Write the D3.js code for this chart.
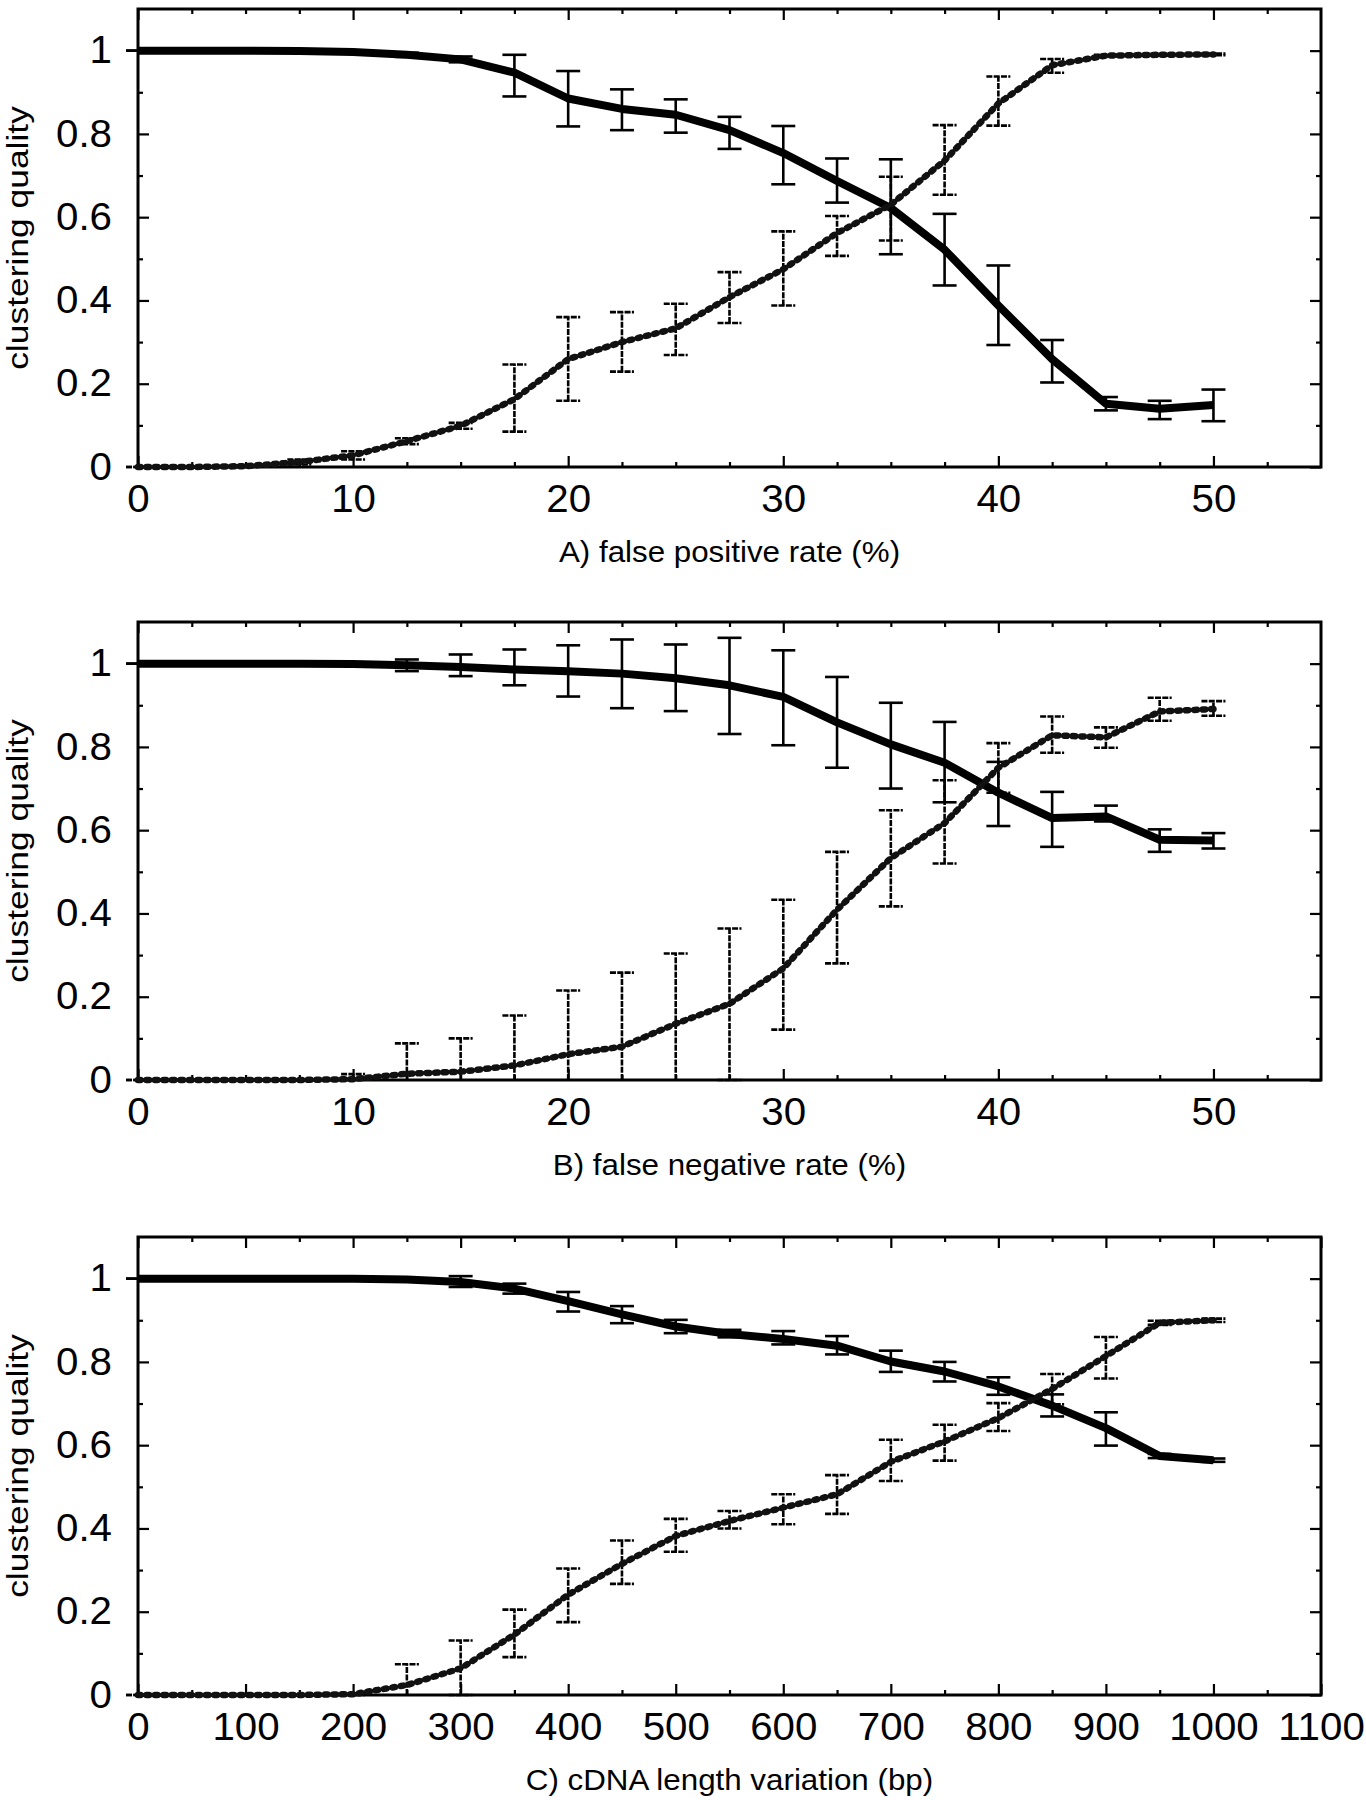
<!DOCTYPE html>
<html>
<head>
<meta charset="utf-8">
<script src="https://cdn.jsdelivr.net/npm/d3@7"></script>
<style>
  body { margin: 0; background: #fff; }
  svg { display: block; }
  text { font-family: "Liberation Sans", Arial, Helvetica, sans-serif; fill: #000; }
</style>
</head>
<body>
<svg id="chart" width="1366" height="1800"></svg>
<script>
// ---- data ----
const rateX = [0, 2.5, 5, 7.5, 10, 12.5, 15, 17.5, 20, 22.5, 25, 27.5, 30, 32.5, 35, 37.5, 40, 42.5, 45, 47.5, 50]
const lengthX = [0, 50, 100, 150, 200, 250, 300, 350, 400, 450, 500, 550, 600, 650, 700, 750, 800, 850, 900, 950, 1000]

// A) false positive rate
const solidA    = [1, 1, 1, 0.999, 0.997, 0.99, 0.979, 0.947, 0.885, 0.86, 0.846, 0.809, 0.754, 0.687, 0.622, 0.522, 0.388, 0.259, 0.152, 0.14, 0.149]
const solidALo  = [1, 1, 1, 0.998, 0.993, 0.985, 0.972, 0.89, 0.818, 0.809, 0.803, 0.764, 0.679, 0.635, 0.511, 0.436, 0.293, 0.203, 0.136, 0.115, 0.11]
const solidAHi  = [1, 1, 1, 1, 1, 0.995, 0.986, 0.99, 0.951, 0.907, 0.883, 0.841, 0.819, 0.741, 0.739, 0.608, 0.484, 0.305, 0.168, 0.159, 0.186]
const dottedA   = [0, 0, 0.002, 0.012, 0.028, 0.062, 0.099, 0.163, 0.259, 0.3, 0.333, 0.408, 0.475, 0.562, 0.63, 0.736, 0.873, 0.965, 0.988, 0.99, 0.991]
const dottedALo = [0, 0, 0, 0.006, 0.018, 0.055, 0.092, 0.085, 0.159, 0.229, 0.269, 0.346, 0.388, 0.507, 0.544, 0.654, 0.82, 0.947, 0.986, 0.988, 0.989]
const dottedAHi = [0, 0, 0.004, 0.018, 0.038, 0.069, 0.106, 0.246, 0.36, 0.372, 0.392, 0.468, 0.566, 0.603, 0.697, 0.821, 0.938, 0.98, 0.99, 0.992, 0.993]

// B) false negative rate
const solidB    = [1, 1, 1, 1, 0.999, 0.996, 0.992, 0.986, 0.982, 0.976, 0.965, 0.948, 0.92, 0.859, 0.806, 0.762, 0.69, 0.629, 0.633, 0.577, 0.575]
const solidBLo  = [1, 1, 1, 1, 0.997, 0.982, 0.97, 0.948, 0.921, 0.893, 0.886, 0.831, 0.804, 0.75, 0.7, 0.667, 0.61, 0.56, 0.621, 0.548, 0.556]
const solidBHi  = [1, 1, 1, 1, 1, 1.01, 1.022, 1.034, 1.044, 1.058, 1.046, 1.062, 1.032, 0.968, 0.906, 0.86, 0.764, 0.692, 0.659, 0.602, 0.593]
const dottedB   = [0, 0, 0, 0, 0.002, 0.015, 0.02, 0.035, 0.062, 0.08, 0.135, 0.183, 0.268, 0.409, 0.533, 0.617, 0.75, 0.828, 0.823, 0.885, 0.891]
const dottedBLo = [0, 0, 0, 0, -0.01, -0.06, -0.06, -0.08, -0.09, -0.1, -0.03, 0, 0.121, 0.28, 0.417, 0.52, 0.69, 0.786, 0.798, 0.863, 0.875]
const dottedBHi = [0, 0, 0, 0, 0.014, 0.088, 0.1, 0.155, 0.215, 0.258, 0.304, 0.364, 0.433, 0.548, 0.648, 0.72, 0.809, 0.873, 0.847, 0.918, 0.91]

// C) cDNA length variation
const solidC    = [1, 1, 1, 1, 1, 0.998, 0.992, 0.976, 0.946, 0.914, 0.885, 0.867, 0.855, 0.839, 0.801, 0.777, 0.741, 0.695, 0.641, 0.574, 0.564]
const solidCLo  = [1, 1, 1, 1, 1, 0.995, 0.98, 0.964, 0.921, 0.893, 0.869, 0.859, 0.842, 0.818, 0.776, 0.753, 0.721, 0.669, 0.599, 0.569, 0.56]
const solidCHi  = [1, 1, 1, 1, 1, 1.001, 1.006, 0.988, 0.968, 0.934, 0.901, 0.877, 0.874, 0.862, 0.827, 0.8, 0.763, 0.722, 0.679, 0.579, 0.568]
const dottedC   = [0, 0, 0, 0, 0.002, 0.024, 0.064, 0.145, 0.241, 0.315, 0.382, 0.418, 0.45, 0.482, 0.56, 0.609, 0.665, 0.735, 0.814, 0.894, 0.9]
const dottedCLo = [0, 0, 0, 0, 0, -0.026, 0, 0.091, 0.175, 0.267, 0.344, 0.4, 0.41, 0.435, 0.514, 0.563, 0.634, 0.698, 0.76, 0.889, 0.896]
const dottedCHi = [0, 0, 0, 0, 0.004, 0.074, 0.131, 0.205, 0.304, 0.371, 0.423, 0.442, 0.482, 0.528, 0.613, 0.649, 0.701, 0.771, 0.86, 0.899, 0.904]

// axis ticks
const yTicks = [0, 0.2, 0.4, 0.6, 0.8, 1]
const yMinor = [0.1, 0.3, 0.5, 0.7, 0.9]
const rateTicks = [0, 10, 20, 30, 40, 50]
const rateMinor = [2.5, 5, 7.5, 12.5, 15, 17.5, 22.5, 25, 27.5, 32.5, 35, 37.5, 42.5, 45, 47.5, 52.5]
const lengthTicks = [0, 100, 200, 300, 400, 500, 600, 700, 800, 900, 1000, 1100]
const lengthMinor = [50, 150, 250, 350, 450, 550, 650, 750, 850, 950, 1050]

const yTitle = 'clustering quality'
const xTitles = ['A) false positive rate (%)', 'B) false negative rate (%)', 'C) cDNA length variation (bp)']

// ---- layout ----
const left = 138
const plotW = 1321 - 138
const plotH = 458
const tops = [9, 622, 1237]

const svg = d3.select('#chart')

function zipSeries(xs, ys, lo, hi) {
  return xs.map((x, i) => ({ x, y: ys[i], lo: lo[i], hi: hi[i] }))
}

// the scanned figure's lettering is a bit wider than the font, stretch it
function stretch(sel, k) {
  sel.each(function () {
    const len = this.getComputedTextLength()
    d3.select(this).attr('textLength', len * k).attr('lengthAdjust', 'spacingAndGlyphs')
  })
}

function drawPanel(p) {
  const g = svg.append('g').attr('transform', `translate(${left},${p.top})`)
  const x = d3.scaleLinear().domain(p.xDomain).range([0, plotW])
  const y = d3.scaleLinear().domain([0, 1.1]).range([plotH, 0])
  const fmt = d => d3.format('~g')(d)

  // ticks on all four sides, pointing inward
  const addAxis = (axis, tx, ty, labelled) => {
    const a = g.append('g').attr('transform', `translate(${tx},${ty})`).call(axis)
    a.select('.domain').remove()
    a.selectAll('line').attr('stroke', '#000').attr('stroke-width', 2.2)
    if (labelled) {
      a.selectAll('text').attr('font-size', 38).attr('fill', '#000')
      stretch(a.selectAll('text'), 1.06)
    }
    return a
  }
  addAxis(d3.axisBottom(x).tickValues(p.xTicks).tickSize(-11).tickSizeOuter(0).tickPadding(18).tickFormat(fmt), 0, plotH, true)
  addAxis(d3.axisBottom(x).tickValues(p.xMinor).tickSize(-5).tickSizeOuter(0).tickFormat(''), 0, plotH, false)
  addAxis(d3.axisTop(x).tickValues(p.xTicks).tickSize(-11).tickSizeOuter(0).tickFormat(''), 0, 0, false)
  addAxis(d3.axisTop(x).tickValues(p.xMinor).tickSize(-5).tickSizeOuter(0).tickFormat(''), 0, 0, false)
  addAxis(d3.axisLeft(y).tickValues(yTicks).tickSize(-11).tickSizeOuter(0).tickPadding(26).tickFormat(fmt), 0, 0, true)
  addAxis(d3.axisLeft(y).tickValues(yMinor).tickSize(-5).tickSizeOuter(0).tickFormat(''), 0, 0, false)
  addAxis(d3.axisRight(y).tickValues(yTicks).tickSize(-11).tickSizeOuter(0).tickFormat(''), plotW, 0, false)
  addAxis(d3.axisRight(y).tickValues(yMinor).tickSize(-5).tickSizeOuter(0).tickFormat(''), plotW, 0, false)

  g.append('rect')
    .attr('width', plotW).attr('height', plotH)
    .attr('fill', 'none').attr('stroke', '#000').attr('stroke-width', 3)

  const line = d3.line().x(d => x(d.x)).y(d => y(d.y))
  const ymax = y.domain()[1]

  function errorBars(data, dashed) {
    const eb = g.append('g')
      .attr('stroke', '#000')
      .attr('stroke-width', 2.6)
      .attr('stroke-dasharray', dashed ? '6,1.3' : null)
    data.forEach(d => {
      const lo = Math.max(d.lo, 0), hi = Math.min(d.hi, ymax)
      eb.append('line').attr('x1', x(d.x)).attr('x2', x(d.x)).attr('y1', y(lo)).attr('y2', y(hi))
      if (d.lo >= 0) eb.append('line').attr('x1', x(d.x) - 12).attr('x2', x(d.x) + 12).attr('y1', y(d.lo)).attr('y2', y(d.lo))
      if (d.hi <= ymax) eb.append('line').attr('x1', x(d.x) - 12).attr('x2', x(d.x) + 12).attr('y1', y(d.hi)).attr('y2', y(d.hi))
    })
  }

  errorBars(p.solid, false)
  g.append('path').datum(p.solid)
    .attr('d', line)
    .attr('fill', 'none').attr('stroke', '#000')
    .attr('stroke-width', 8).attr('stroke-linejoin', 'round')

  errorBars(p.dotted, true)
  g.append('path').datum(p.dotted)
    .attr('d', line)
    .attr('fill', 'none').attr('stroke', '#1a1a1a')
    .attr('stroke-width', 3.6)
  g.append('path').datum(p.dotted)
    .attr('d', line)
    .attr('fill', 'none').attr('stroke', '#111')
    .attr('stroke-width', 6.5).attr('stroke-linecap', 'round')
    .attr('stroke-dasharray', '2.5,6')

  // titles
  const xt = g.append('text')
    .attr('x', plotW / 2).attr('y', plotH + 95)
    .attr('text-anchor', 'middle').attr('font-size', 29)
    .text(p.xTitle)
  stretch(xt, 1.08)
  const yt = g.append('text')
    .attr('transform', `translate(${28 - left},${plotH / 2}) rotate(-90)`)
    .attr('text-anchor', 'middle').attr('font-size', 30)
    .text(yTitle)
  stretch(yt, 1.18)
}

drawPanel({
  top: tops[0], xDomain: [0, 55], xTicks: rateTicks, xMinor: rateMinor, xTitle: xTitles[0],
  solid: zipSeries(rateX, solidA, solidALo, solidAHi),
  dotted: zipSeries(rateX, dottedA, dottedALo, dottedAHi)
})
drawPanel({
  top: tops[1], xDomain: [0, 55], xTicks: rateTicks, xMinor: rateMinor, xTitle: xTitles[1],
  solid: zipSeries(rateX, solidB, solidBLo, solidBHi),
  dotted: zipSeries(rateX, dottedB, dottedBLo, dottedBHi)
})
drawPanel({
  top: tops[2], xDomain: [0, 1100], xTicks: lengthTicks, xMinor: lengthMinor, xTitle: xTitles[2],
  solid: zipSeries(lengthX, solidC, solidCLo, solidCHi),
  dotted: zipSeries(lengthX, dottedC, dottedCLo, dottedCHi)
})
</script>
</body>
</html>
